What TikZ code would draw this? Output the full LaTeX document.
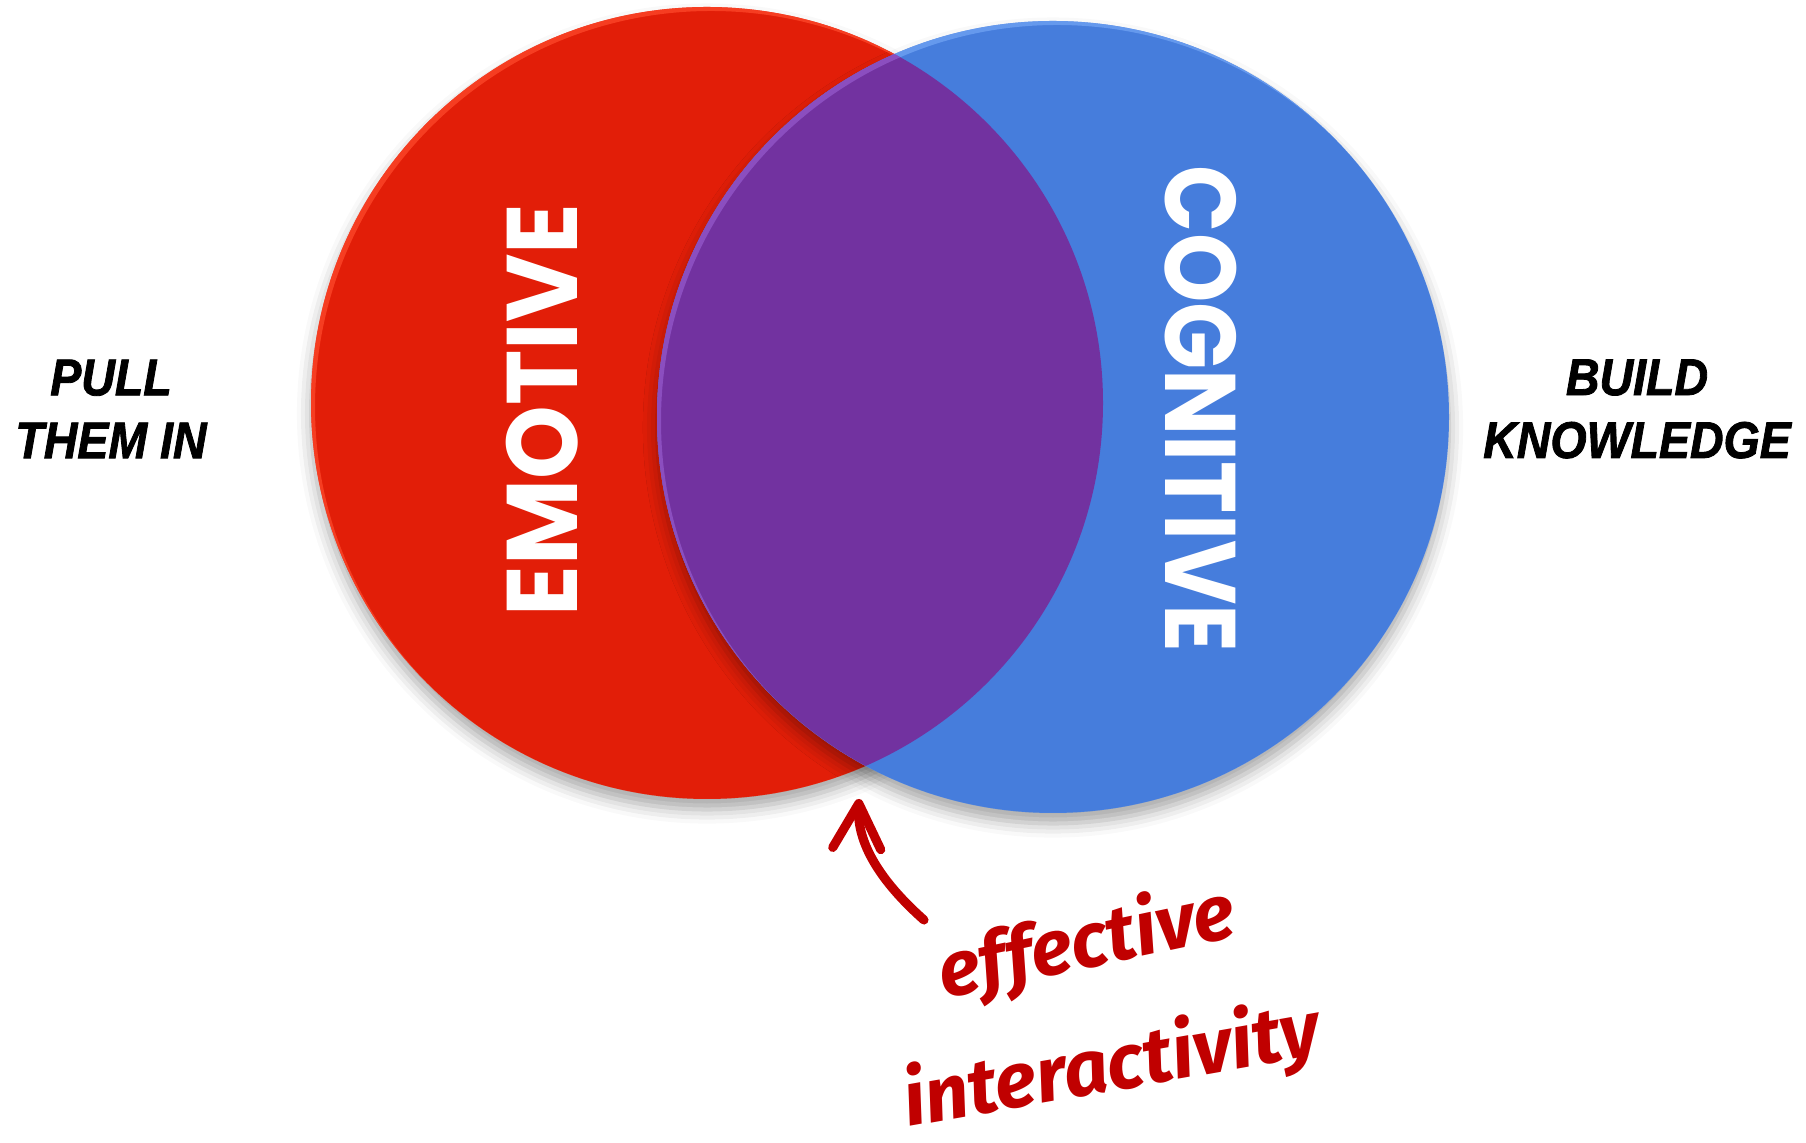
\documentclass[tikz,border=0pt]{standalone}
\usepackage{fontspec}
\usetikzlibrary{arrows.meta,shadows.blur}
\newfontfamily\ringfont[FakeStretch=0.935]{Poppins}
\newfontfamily\ringfontnarrow[FakeStretch=0.88]{Poppins}
\newfontfamily\tagfont[FakeStretch=0.9,FakeBold=1.6]{Liberation Sans}
\newfontfamily\handfont{Fira Sans}
\definecolor{emored}{RGB}{226,30,8}
\definecolor{rimred}{RGB}{255,75,45}
\definecolor{cogblue}{RGB}{70,125,220}
\definecolor{rimblue}{RGB}{115,165,245}
\definecolor{mixpurple}{RGB}{114,50,160}
\definecolor{rimpurple}{RGB}{150,90,205}
\definecolor{penred}{RGB}{192,0,0}

\tikzset{
  ringtext/.style={text=white, font=\ringfont\bfseries\fontsize{28.5}{30}\selectfont},
  tagtext/.style={align=center, font=\tagfont\bfseries\itshape\fontsize{14.7}{17.9}\selectfont},
  handtext/.style={text=penred, inner sep=0pt, font=\handfont\bfseries\itshape\fontsize{22}{25}\selectfont},
  pen/.style={penred, line width=2.6pt, line cap=round, -{Straight Barb[length=4.5mm,width=4.8mm,round]}},
  softshadow/.style={blur shadow={shadow xshift=0pt, shadow yshift=-3pt, shadow blur radius=4pt, shadow opacity=35}}
}

\begin{document}
\begin{tikzpicture}[x=0.01cm, y=0.01cm]
\useasboundingbox (0,0) rectangle (1806,1143);

% the two sets
\fill[emored, softshadow] (707,740) circle (396);
\begin{scope}
  \clip (707,740) circle (396);
  \fill[rimred, opacity=.7, even odd rule] (707,740) circle (396) (711,736) circle (396);
\end{scope}
\fill[cogblue, softshadow] (1053,726) circle (396);
\begin{scope}
  \clip (1053,726) circle (396);
  \fill[rimblue, opacity=.7, even odd rule] (1053,726) circle (396) (1057,722) circle (396);
\end{scope}
% overlap
\begin{scope}
  \clip (707,740) circle (396);
  \fill[mixpurple] (1053,726) circle (396);
  \clip (1053,726) circle (396);
  \fill[rimpurple, opacity=.7, even odd rule] (1053,726) circle (396) (1057,722) circle (396);
\end{scope}

\node[ringtext, rotate=90] (emotive) at (542,733) {EMOTIVE};
\node[ringtext, font=\ringfontnarrow\bfseries\fontsize{28.5}{30}\selectfont, rotate=-90] (cognitive) at (1201,734) {COGNITIVE};

\node[tagtext] (pull) at (111,734) {PULL\\THEM IN};
\node[tagtext] (build) at (1637,734) {BUILD\\KNOWLEDGE};

% handwritten note
\node[handtext, rotate=12] (effective) at (1087,198) {effective};
\node[handtext, rotate=10] (interact) at (1112,75) {interactivity};
\coordinate (tail) at (924,223);
\coordinate (tip) at (859,344);
\draw[pen] (tail) .. controls (880,262) and (857,300) .. (tip);
\end{tikzpicture}
\end{document}
